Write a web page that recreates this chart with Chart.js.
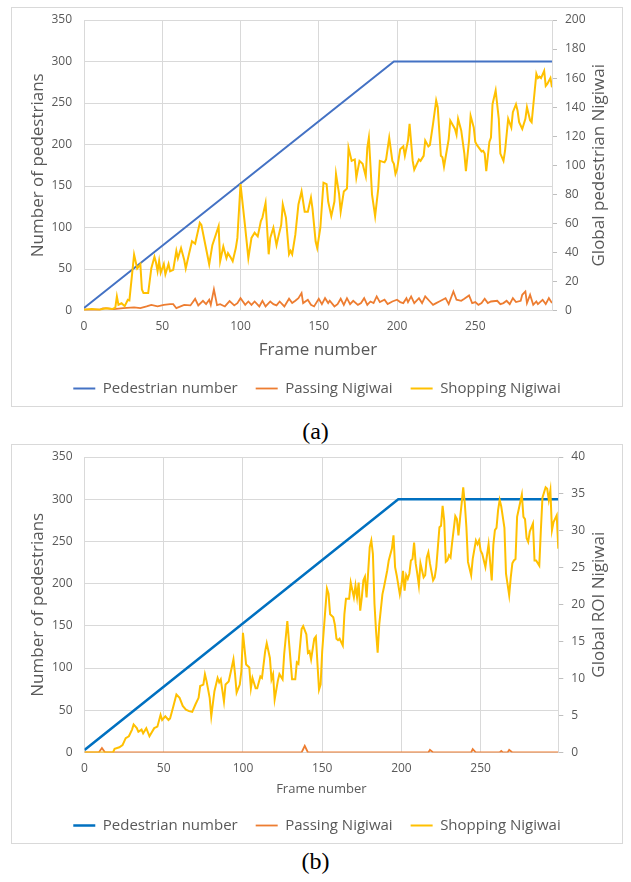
<!DOCTYPE html>
<html>
<head>
<meta charset="utf-8">
<script src="https://cdn.jsdelivr.net/npm/chart.js@4.4.0/dist/chart.umd.min.js"></script>
<style>
  body { margin: 0; width: 631px; height: 882px; background: #fff; position: relative; overflow: hidden; }
  .box { position: absolute; left: 11px; width: 612px; height: 400px; border: 1px solid #d9d9d9; box-sizing: border-box; }
  .box canvas { position: absolute; left: 0; top: 0; }
  .cap { position: absolute; left: 0; width: 631px; text-align: center; font: 24px "Liberation Serif", serif; color: #000; }
</style>
</head>
<body>
<div class="box" style="top:7px"><canvas id="chartA" width="610" height="398"></canvas></div>
<div class="cap" style="top:418px">(a)</div>
<div class="box" style="top:444px"><canvas id="chartB" width="610" height="398"></canvas></div>
<div class="cap" style="top:848px">(b)</div>
<script>
const seriesNames = ["Pedestrian number", "Passing Nigiwai", "Shopping Nigiwai"];
const xTicks = [0, 50, 100, 150, 200, 250];

// [frame, value] pairs
const pedA = [[0, 3], [198, 300], [299, 300]];
const pedB = [[0, 3], [198, 300], [299, 300]];

// (a) right axis: Global pedestrian Nigiwai
const passA = [[0,0.5],[2,0.5],[10,0.5],[12,1.5],[15,1.5],[19,1],[25,1.6],[32,2.2],[36,1.6],[40,2.8],[43,3.9],[47,2.8],[51,3.9],[55,4.4],[57,4.4],[59,1.6],[64,3.9],[68,3.5],[71,8],[73,3.5],[76,6.7],[78,4.4],[80,7.4],[81,3.9],[83,14.6],[85,3.7],[87,4.4],[90,2.8],[93,6.5],[96,3.5],[98,5],[100,8.5],[103,3.9],[105,6.2],[107,3.9],[109,6.2],[112,2.8],[114,6.7],[116,2.8],[119,6.2],[121,4.4],[123,3.5],[125,6.2],[128,2.8],[131,8.1],[133,5.1],[135,6.7],[137,8.5],[139,12],[140,5.1],[143,7.4],[145,3.9],[147,2.8],[150,8.1],[152,4.4],[154,8.5],[156,5.1],[157,6.7],[160,2.8],[162,4.4],[164,8.1],[166,3.9],[168,8.5],[170,4.4],[172,6.7],[175,3.9],[177,5.1],[179,8.5],[181,3.9],[183,6.2],[185,5.1],[187,9.7],[189,5.8],[192,7.4],[194,4.4],[197,6.2],[200,7.4],[202,5.8],[204,5.1],[206,8.5],[207,5.8],[209,9.7],[211,5.1],[214,8.5],[216,5.1],[218,9.7],[221,6.2],[223,3.9],[225,5.1],[227,6.2],[231,8.5],[233,4.4],[236,13.1],[238,7.4],[241,6.7],[243,8.1],[246,10.4],[248,5.1],[250,5.8],[252,3.9],[254,5.1],[256,8.1],[258,5.1],[260,6.2],[264,6.7],[266,4.4],[268,5.1],[270,6.7],[272,4.4],[274,8.5],[276,5.8],[279,6.7],[280,10.8],[282,13.1],[283,5.1],[285,10.8],[287,3.9],[289,6.2],[290,4.4],[293,7.4],[295,4.4],[297,8.5],[299,5.1]];

const shopA = [[0,0.5],[5,1],[10,0.5],[14,1.5],[18,1],[20,2],[21,9.7],[22,4],[24,5],[26,3],[28,7.4],[29,7],[32,38.5],[34,29],[36,31.8],[37,14.5],[38,12],[41,12],[43,29],[45,37],[46,33],[47,27],[48,34],[49,26],[51,32],[52,25],[54,32],[55,27],[57,28],[59,41],[60,36],[62,43],[64,35],[65,29],[67,38.5],[69,47.7],[71,46],[74,60.4],[75,59],[77,48],[80,31.8],[82,45],[86,58],[87,34],[89,44],[91,36],[92,39.5],[94,36],[95,34],[97,43],[98,50],[100,87],[103,57],[105,36],[107,50],[109,53.5],[111,51],[113,61.6],[114,64],[116,74],[118,38.7],[119,50],[121,57],[123,45],[124,50],[126,59],[127,73],[129,64],[131,38.7],[132,41],[133,38.7],[135,52],[137,73],[139,82],[141,68],[143,68],[145,77.7],[146,70],[148,47.5],[149,43],[151,57],[153,88],[155,87],[156,75],[158,65],[160,75],[161,94],[163,80],[164,68],[166,82],[168,84],[169,112],[171,103],[173,104],[174,91.5],[176,103],[178,101],[180,92.5],[181,112],[182,119],[183,100],[184,80],[186,65],[188,84],[189,103],[192,102],[193,104],[195,119],[197,103],[198,101],[199,94],[200,97],[202,111],[204,113],[205,106.5],[207,117],[208,128.5],[210,103],[211,97],[214,104],[215,103],[217,106.5],[218,117],[220,113],[221,114],[223,128.5],[225,144.6],[226,140],[228,106.5],[229,105.5],[230,99],[233,118],[234,130.8],[237,125],[238,121],[239,132],[241,124],[243,108],[244,96],[246,117],[247,134],[249,126],[250,116],[251,114],[254,109.5],[255,110],[256,108],[257,96],[259,116],[260,119],[261,142],[263,151.5],[265,132],[266,108],[268,103],[269,110],[271,132],[273,126],[274,136.5],[276,142],[277,137.6],[278,129.6],[280,125],[282,132],[283,140],[285,131],[286,129.6],[289,163],[290,160],[291,161],[292,160],[294,165],[295,154.6],[296,156],[298,160],[299,153.7]];

// (b) right axis: Global ROI Nigiwai
const passB = [[0,0],[9,0],[11,0.6],[13,0],[137,0],[139,0.9],[141,0],[217,0],[218,0.35],[220,0],[244,0],[245,0.45],[247,0],[262,0],[263,0.2],[264,0],[267,0],[268,0.35],[270,0],[299,0]];

const shopB = [[0,0],[18,0],[19,0.5],[22,0.7],[24,1],[26,1.95],[28,2.2],[30,3.1],[31,3.8],[33,3.3],[34,2.8],[36,3.1],[37,2.6],[39,3.3],[41,2.2],[44,3.3],[46,3.5],[48,5.1],[49,4.4],[51,4.9],[53,4.4],[54,4.6],[56,6.2],[58,7.85],[60,7.4],[62,6.3],[64,5.8],[66,5.6],[68,5.5],[70,6.5],[72,7.4],[73,9],[75,9.2],[76,10.6],[77,9.7],[79,7.4],[80,4.9],[82,8.3],[84,10.1],[85,9.5],[86,9.9],[88,6.9],[89,9.2],[91,9.6],[92,10.6],[94,12.6],[95,10.6],[96,8.1],[98,9.2],[99,11],[100,16.2],[102,11.9],[104,11.5],[105,8.7],[106,10.1],[108,8.7],[109,8.7],[111,10.3],[112,10.1],[114,13.7],[115,14.8],[117,12.8],[118,9.9],[119,10.6],[120,7.2],[122,9.7],[123,10.6],[125,9.9],[126,13.3],[128,17.8],[129,15.1],[131,9.9],[133,9.9],[134,12.2],[135,12],[137,16.7],[138,17.1],[140,16],[141,13.5],[142,13.7],[143,12.6],[145,15.4],[146,15.7],[148,8.5],[149,9.2],[150,13.7],[152,19.4],[153,22.2],[154,21.5],[155,18.7],[157,18.3],[158,17.3],[159,15.4],[160,15.2],[161,15.4],[163,14.5],[164,18.7],[165,20.8],[167,20.8],[168,23],[170,21],[171,22.6],[172,21],[173,23],[174,19.2],[175,21],[176,23.3],[177,23.8],[178,21],[180,27.8],[181,28.7],[182,26.9],[183,20.1],[184,16.4],[185,13.5],[186,17.3],[188,21.4],[189,22.4],[191,24.6],[192,26],[194,27.6],[195,29.4],[196,25.1],[197,24],[199,21.4],[200,22.6],[201,24.6],[202,21.9],[203,24],[204,23.5],[205,24.2],[206,26],[207,26.2],[208,28.4],[209,25.6],[210,24.2],[211,22.6],[212,25.6],[214,23.7],[215,24],[216,26.4],[217,27.1],[218,25.6],[220,23.3],[221,23.7],[222,25.1],[224,30.5],[225,30.7],[226,33.4],[227,31.4],[228,25.8],[229,26],[230,26.7],[231,26.4],[232,28.4],[234,32],[235,31.6],[236,29.4],[237,31.7],[238,33.7],[239,35.9],[240,33.7],[241,30.5],[242,25.8],[243,24.9],[244,24],[245,26.2],[247,28.7],[248,28.2],[249,28.7],[250,27.3],[251,26.9],[253,25.1],[254,26.7],[255,28.2],[257,23.3],[258,28.1],[259,30.1],[260,30.4],[261,32.8],[262,34.2],[263,33.3],[265,30.4],[266,24.2],[268,21.3],[269,23.7],[270,25.6],[271,26],[272,26.2],[273,31.9],[274,32.9],[276,34.9],[277,31.9],[278,31.6],[279,29],[280,28.5],[281,29.9],[283,31],[284,26],[285,26],[287,25.3],[288,30.1],[289,34.5],[291,35.9],[292,35.7],[293,34.2],[294,35.5],[295,30.1],[296,31.2],[298,32.1],[299,27.6]];

Chart.defaults.font.family = "'Open Sans', sans-serif";
Chart.defaults.color = "#595959";

const GRID = "#d9d9d9";
const toXY = (pairs) => pairs.map(([x, y]) => ({ x, y }));

// right-hand axis title, read bottom-to-top like the left one
const rightTitle = {
  id: "rightTitle",
  afterDraw(chart, args, opts) {
    const { ctx, chartArea } = chart;
    ctx.save();
    ctx.translate(opts.x, (chartArea.top + chartArea.bottom) / 2);
    ctx.rotate(-Math.PI / 2);
    ctx.font = "17px 'Open Sans'";
    ctx.fillStyle = "#595959";
    ctx.textAlign = "center";
    ctx.textBaseline = "middle";
    ctx.fillText(opts.text, 0, 0);
    ctx.restore();
  },
};

// fixed axis width, and no extra room reserved above/below for tick labels
const fixWidth = (w) => (s) => {
  s.width = w;
  s.paddingTop = 0;
  s.paddingBottom = 0;
};

function makeChart(id, p) {
  return new Chart(document.getElementById(id), {
    type: "line",
    data: {
      datasets: [
        { label: seriesNames[0], data: toXY(p.ped), borderColor: p.blue, borderWidth: p.pedWidth, yAxisID: "y", order: 3 },
        { label: seriesNames[1], data: toXY(p.pass), borderColor: "#ED7D31", borderWidth: 1.8, yAxisID: "y1", order: 2 },
        { label: seriesNames[2], data: toXY(p.shop), borderColor: "#FFC000", borderWidth: 2, yAxisID: "y1", order: 1 },
      ],
    },
    options: {
      responsive: false,
      animation: false,
      elements: { point: { radius: 0 }, line: { tension: 0 } },
      layout: { padding: { top: 12, left: 0, right: 0, bottom: 0 } },
      plugins: {
        tooltip: { enabled: false },
        legend: {
          position: "bottom",
          labels: {
            font: { size: 15 },
            color: "#595959",
            usePointStyle: true,
            pointStyle: "line",
            pointStyleWidth: 22,
            padding: 18,
            sort: (a, b) => a.datasetIndex - b.datasetIndex,
          },
        },
        rightTitle: { text: p.rightTitle, x: 587 },
      },
      scales: {
        x: {
          type: "linear",
          min: 0,
          max: 299,
          afterBuildTicks: (s) => { s.ticks = xTicks.map((v) => ({ value: v })); },
          afterFit: (s) => { s.height = p.xHeight; },
          grid: { color: GRID, drawTicks: false },
          border: { color: GRID },
          ticks: { font: { size: 12 }, padding: 9 },
          title: { display: true, text: "Frame number", font: { size: p.xTitleSize }, padding: { top: 0, bottom: 3 } },
        },
        y: {
          position: "left",
          min: 0,
          max: 350,
          ticks: { stepSize: 50, font: { size: 12 }, padding: 12 },
          afterFit: fixWidth(p.leftW),
          grid: { color: GRID, drawTicks: false },
          border: { display: false },
          title: { display: true, text: "Number of pedestrians", font: { size: 17 }, padding: { top: 16, bottom: 0 } },
        },
        y1: {
          position: "right",
          min: 0,
          max: p.rightMax,
          ticks: { stepSize: p.rightStep, font: { size: 12 }, padding: 8 },
          afterFit: fixWidth(p.rightW),
          grid: { drawOnChartArea: false, drawTicks: true, tickLength: 5, color: "#bfbfbf" },
          border: { color: GRID },
        },
      },
    },
    plugins: [rightTitle],
  });
}

makeChart("chartA", {
  ped: pedA, pass: passA, shop: shopA, blue: "#4472C4", pedWidth: 2,
  rightMax: 200, rightStep: 20, rightTitle: "Global pedestrian Nigiwai",
  leftW: 72, rightW: 70, xHeight: 52.5, xTitleSize: 17,
});

makeChart("chartB", {
  ped: pedB, pass: passB, shop: shopB, blue: "#0070C0", pedWidth: 2.5,
  rightMax: 40, rightStep: 5, rightTitle: "Global ROI Nigiwai",
  leftW: 72.5, rightW: 63.7, xHeight: 47.5, xTitleSize: 13,
});
</script>
</body>
</html>
